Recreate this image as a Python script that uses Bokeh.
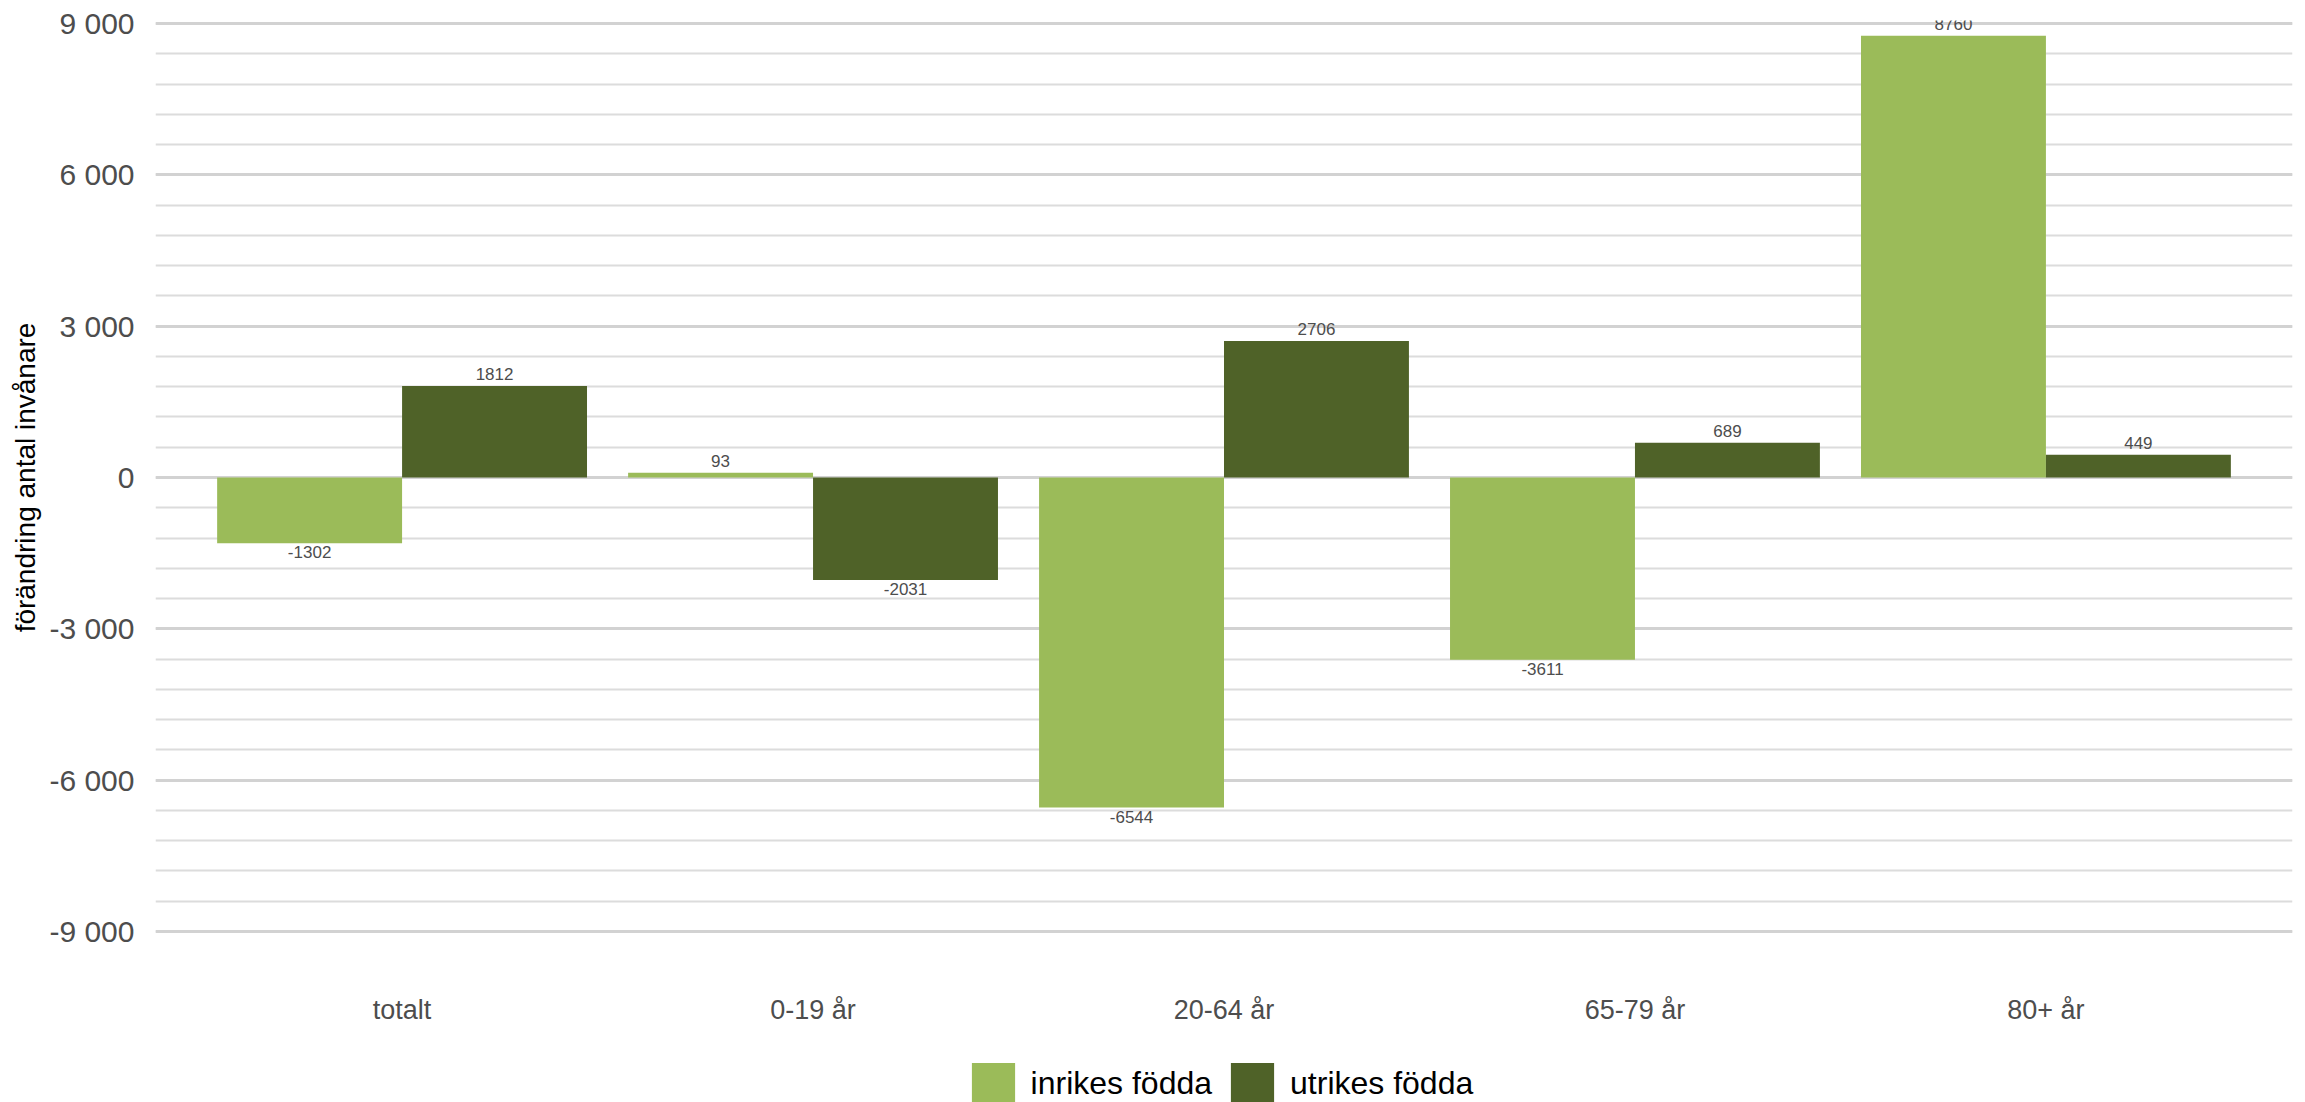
from bokeh.plotting import figure
from bokeh.layouts import column
from bokeh.models import (FactorRange, Range1d, SingleIntervalTicker, FixedTicker,
                          ColumnDataSource, Legend, LegendItem)
from bokeh.transform import dodge
from bokeh.core.properties import value
from bokeh.embed import file_html
from bokeh.resources import INLINE

# ---- data ----
categories = ["totalt", "0-19 år", "20-64 år", "65-79 år", "80+ år"]
inrikes = [-1302, 93, -6544, -3611, 8760]
utrikes = [1812, -2031, 2706, 689, 449]
series_names = ["inrikes födda", "utrikes födda"]
series_colors = ["#9BBB59", "#4F6228"]
y_ticks = [-9000, -6000, -3000, 0, 3000, 6000, 9000]
y_tick_labels = ["-9 000", "-6 000", "-3 000", "0", "3 000", "6 000", "9 000"]
y_title = "förändring antal invånare"

FONT = "Liberation Sans"

src = ColumnDataSource(dict(cat=categories, inrikes=inrikes, utrikes=utrikes))

p = figure(x_range=FactorRange(factors=categories, range_padding=0.04),
           y_range=Range1d(-9060, 9060),
           width=2305, height=1040,
           output_backend="svg", toolbar_location=None,
           min_border_left=155, min_border_right=13,
           min_border_top=20, min_border_bottom=106)

p.outline_line_color = None
p.background_fill_color = "white"

# grid
p.xgrid.visible = False
p.ygrid.ticker = SingleIntervalTicker(interval=3000, num_minor_ticks=5)
p.ygrid.grid_line_color = "#d2d2d2"
p.ygrid.grid_line_width = 3
p.ygrid.minor_grid_line_color = "#dcdcdc"
p.ygrid.minor_grid_line_width = 2

# bars
offsets = [-0.225, 0.225]
cols = ["inrikes", "utrikes"]
for col, off, colr in zip(cols, offsets, series_colors):
    p.vbar(x=dodge("cat", off, range=p.x_range), top=col, bottom=0, width=0.45,
           source=src, fill_color=colr, line_color=None)

# value labels
for col, off in zip(cols, offsets):
    vals = src.data[col]
    pos = [(c, v) for c, v in zip(categories, vals) if v >= 0]
    neg = [(c, v) for c, v in zip(categories, vals) if v < 0]
    if pos:
        s = ColumnDataSource(dict(cat=[c for c, _ in pos], v=[v for _, v in pos],
                                  t=[str(v) for _, v in pos]))
        p.text(x=dodge("cat", off, range=p.x_range), y="v", text="t", source=s,
               text_font=value(FONT), text_font_size="17px", text_color="#4d4d4d",
               text_align="center", text_baseline="bottom", y_offset=-6)
    if neg:
        s = ColumnDataSource(dict(cat=[c for c, _ in neg], v=[v for _, v in neg],
                                  t=[str(v) for _, v in neg]))
        p.text(x=dodge("cat", off, range=p.x_range), y="v", text="t", source=s,
               text_font=value(FONT), text_font_size="17px", text_color="#4d4d4d",
               text_align="center", text_baseline="top", y_offset=3)

# y axis
p.yaxis.ticker = FixedTicker(ticks=y_ticks)
p.yaxis.major_label_overrides = {t: l for t, l in zip(y_ticks, y_tick_labels)}
p.yaxis.major_label_text_font = FONT
p.yaxis.major_label_text_font_size = "30px"
p.yaxis.major_label_text_color = "#4d4d4d"
p.yaxis.major_label_standoff = 15
p.yaxis.axis_line_color = None
p.yaxis.major_tick_line_color = None
p.yaxis.minor_tick_line_color = None
p.yaxis.axis_label = y_title
p.yaxis.axis_label_text_font = FONT
p.yaxis.axis_label_text_font_size = "28px"
p.yaxis.axis_label_text_font_style = "normal"
p.yaxis.axis_label_text_color = "black"
p.yaxis.axis_label_standoff = 5

# x axis
p.xaxis.major_label_text_font = FONT
p.xaxis.major_label_text_font_size = "27px"
p.xaxis.major_label_text_color = "#4d4d4d"
p.xaxis.major_label_standoff = 54
p.xaxis.axis_line_color = None
p.xaxis.major_tick_line_color = None
p.xaxis.minor_tick_line_color = None

# legend strip below the chart (same bar series, drawn outside its visible y-range;
# only the legend of this strip is visible)
pl = figure(width=2305, height=62, x_range=p.x_range, y_range=Range1d(20000, 20001),
            output_backend="svg", toolbar_location=None,
            x_axis_location=None, y_axis_location=None, min_border=0)
pl.grid.visible = False
pl.outline_line_color = None
swatches = []
for col, off, colr in zip(cols, offsets, series_colors):
    swatches.append(pl.vbar(x=dodge("cat", off, range=p.x_range), top=col, bottom=0, width=0.45,
                            source=src, fill_color=colr, line_color=None))

legend = Legend(items=[LegendItem(label=n, renderers=[r]) for n, r in zip(series_names, swatches)],
                location=(810.6, -8.6), orientation="horizontal",
                glyph_width=54, glyph_height=54,
                label_standoff=11, spacing=13,
                padding=0, margin=0, border_line_color=None, background_fill_alpha=0,
                label_text_font=FONT, label_text_font_size="32px", label_text_color="black")
pl.add_layout(legend)

layout = column(p, pl, spacing=0)
open("out.html", "w").write(file_html(layout, INLINE))
